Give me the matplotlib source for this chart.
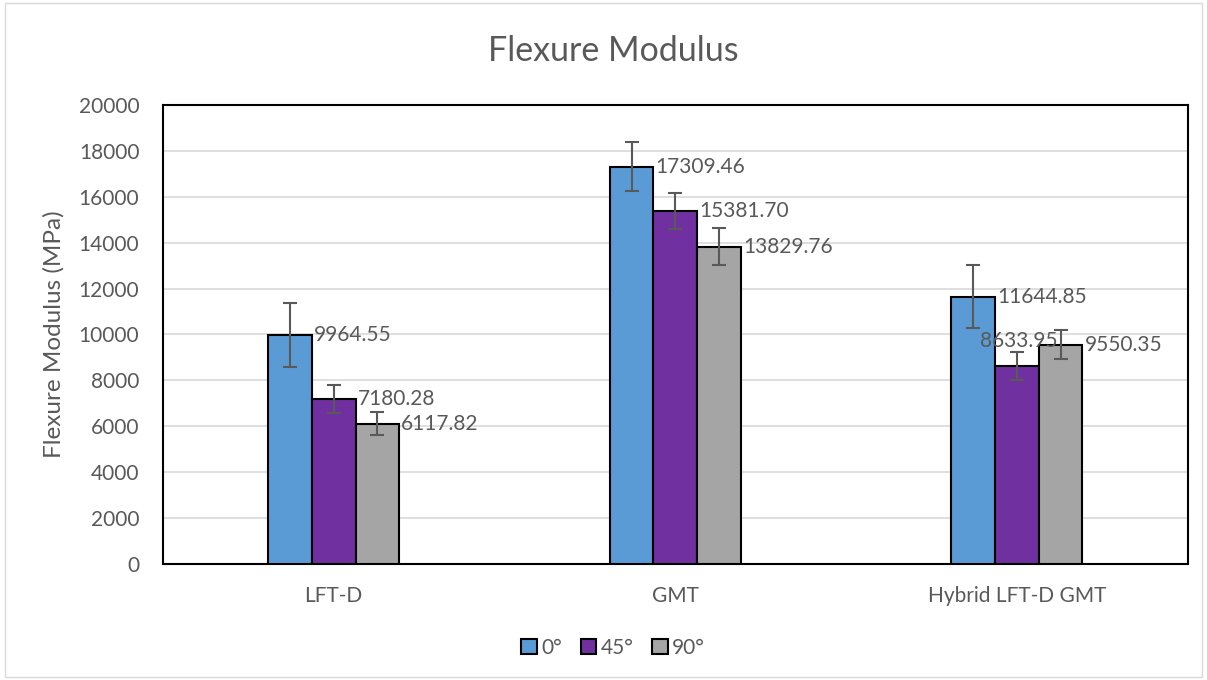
import matplotlib.pyplot as plt
import numpy as np
from matplotlib.patches import Rectangle

plt.rcParams['font.family'] = ['Lato', 'DejaVu Sans']

# data
materials = ["LFT-D", "GMT", "Hybrid LFT-D GMT"]
angles = ["0°", "45°", "90°"]
mod_0 = [9964.55, 17309.46, 11644.85]
mod_45 = [7180.28, 15381.70, 8633.95]
mod_90 = [6117.82, 13829.76, 9550.35]
err_0 = [1400, 1070, 1370]
err_45 = [610, 790, 610]
err_90 = [510, 790, 640]

colors = ["#5B9BD5", "#7030A0", "#A5A5A5"]
txt = "#595959"

fig = plt.figure(figsize=(12.07, 6.8), dpi=100)
ax = fig.add_axes([0.135, 0.1706, 0.849, 0.675])

# light border round the whole chart
fig.patches.append(Rectangle((0.004, 0.004), 0.992, 0.992, transform=fig.transFigure,
                             fill=False, edgecolor="#d9d9d9", linewidth=1))

x = np.arange(len(materials))
w = 0.128
vals = [mod_0, mod_45, mod_90]
errs = [err_0, err_45, err_90]
for i in range(3):
    pos = x + (i - 1) * w
    bars = ax.bar(pos, vals[i], w, color=colors[i], edgecolor="black", linewidth=1.5,
                  label=angles[i], zorder=3)
    ax.errorbar(pos, vals[i], yerr=errs[i], fmt="none", ecolor=txt, elinewidth=1.5,
                capsize=5, capthick=1.5, zorder=4)
    for j, b in enumerate(bars):
        dx, dy = 2, 0
        if i == 1 and j == 2:
            dx, dy = -59, 25
        ax.annotate("%.2f" % vals[i][j], (b.get_x() + b.get_width(), b.get_height()),
                    xytext=(dx, dy), textcoords="offset pixels", ha="left", va="center",
                    fontsize=15, color=txt, zorder=5)

ax.set_xlim(-0.5, 2.5)
ax.set_ylim(0, 20000)
ax.set_yticks(np.arange(0, 20001, 2000))
ax.set_xticks(x)
ax.set_xticklabels(materials)
ax.tick_params(length=0, labelsize=15, colors=txt)
ax.tick_params(axis="y", pad=17)
ax.tick_params(axis="x", pad=16)
ax.grid(axis="y", color="#d9d9d9", linewidth=1.2, zorder=0)
for s in ax.spines.values():
    s.set_color("black")
    s.set_linewidth(1.5)

ax.set_ylabel("Flexure Modulus (MPa)", fontsize=17.5, color=txt, labelpad=10)
fig.text(0.508, 0.925, "Flexure Modulus", ha="center", va="center", fontsize=24.5, color=txt)

leg = fig.legend(loc="center", bbox_to_anchor=(0.508, 0.047), ncol=3, frameon=False,
                 fontsize=15, handlelength=0.75, handleheight=0.75, handletextpad=0.2,
                 columnspacing=0.9)
for t in leg.get_texts():
    t.set_color(txt)

fig.savefig("out.png", dpi=100)
